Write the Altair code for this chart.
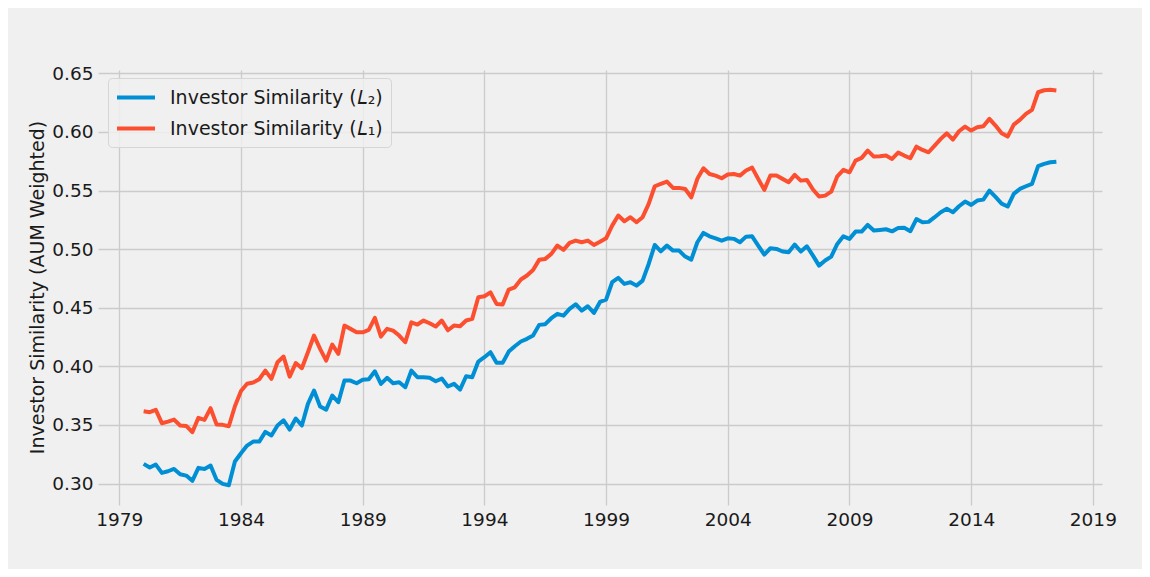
import altair as alt
import pandas as pd

# Quarterly observations, 1980Q1 .. 2017Q3 (decimal years)
quarter_years = [1980 + q * 0.25 for q in range(151)]

l2_values = [
    0.3168, 0.3137, 0.3162, 0.3091, 0.3105, 0.3125, 0.3080, 0.3068, 0.3023, 0.3134,
    0.3125, 0.3154, 0.3031, 0.2997, 0.2986, 0.3188, 0.3259, 0.3324, 0.3358, 0.3358,
    0.3441, 0.3410, 0.3495, 0.3540, 0.3461, 0.3555, 0.3495, 0.3680, 0.3794, 0.3657,
    0.3631, 0.3751, 0.3694, 0.3879, 0.3879, 0.3856, 0.3885, 0.3890, 0.3958, 0.3851,
    0.3902, 0.3856, 0.3864, 0.3822, 0.3964, 0.3907, 0.3907, 0.3902, 0.3873, 0.3896,
    0.3828, 0.3851, 0.3802, 0.3916, 0.3907, 0.4041, 0.4078, 0.4121, 0.4030, 0.4030,
    0.4126, 0.4172, 0.4212, 0.4235, 0.4263, 0.4354, 0.4360, 0.4411, 0.4448, 0.4433,
    0.4490, 0.4530, 0.4476, 0.4513, 0.4456, 0.4550, 0.4570, 0.4718, 0.4755, 0.4704,
    0.4718, 0.4689, 0.4732, 0.4874, 0.5036, 0.4982, 0.5031, 0.4988, 0.4988, 0.4937,
    0.4911, 0.5059, 0.5139, 0.5110, 0.5093, 0.5073, 0.5093, 0.5088, 0.5059, 0.5107,
    0.5110, 0.5031, 0.4954, 0.5008, 0.5002, 0.4980, 0.4974, 0.5039, 0.4980, 0.5025,
    0.4945, 0.4860, 0.4903, 0.4937, 0.5045, 0.5110, 0.5088, 0.5150, 0.5150, 0.5207,
    0.5159, 0.5164, 0.5170, 0.5152, 0.5180, 0.5182, 0.5153, 0.5257, 0.5230, 0.5233,
    0.5273, 0.5315, 0.5344, 0.5315, 0.5366, 0.5406, 0.5378, 0.5415, 0.5423, 0.5500,
    0.5446, 0.5389, 0.5364, 0.5472, 0.5514, 0.5537, 0.5557, 0.5708, 0.5728, 0.5742,
    0.5747,
]

l1_values = [
    0.3617, 0.3609, 0.3629, 0.3515, 0.3529, 0.3546, 0.3495, 0.3492, 0.3438, 0.3561,
    0.3543, 0.3643, 0.3503, 0.3501, 0.3489, 0.3660, 0.3790, 0.3851, 0.3862, 0.3890,
    0.3964, 0.3893, 0.4035, 0.4084, 0.3912, 0.4028, 0.3984, 0.4121, 0.4263, 0.4149,
    0.4049, 0.4186, 0.4107, 0.4348, 0.4320, 0.4291, 0.4291, 0.4311, 0.4414, 0.4254,
    0.4320, 0.4305, 0.4263, 0.4206, 0.4376, 0.4357, 0.4391, 0.4368, 0.4340, 0.4391,
    0.4308, 0.4348, 0.4342, 0.4391, 0.4405, 0.4590, 0.4598, 0.4632, 0.4533, 0.4527,
    0.4655, 0.4675, 0.4741, 0.4775, 0.4823, 0.4909, 0.4917, 0.4960, 0.5031, 0.4994,
    0.5054, 0.5073, 0.5059, 0.5073, 0.5036, 0.5063, 0.5093, 0.5201, 0.5287, 0.5238,
    0.5273, 0.5230, 0.5273, 0.5386, 0.5537, 0.5557, 0.5577, 0.5523, 0.5523, 0.5514,
    0.5443, 0.5600, 0.5690, 0.5642, 0.5628, 0.5605, 0.5637, 0.5642, 0.5628, 0.5671,
    0.5696, 0.5600, 0.5506, 0.5628, 0.5628, 0.5600, 0.5571, 0.5634, 0.5585, 0.5591,
    0.5509, 0.5449, 0.5457, 0.5491, 0.5622, 0.5677, 0.5656, 0.5756, 0.5779, 0.5841,
    0.5790, 0.5793, 0.5799, 0.5770, 0.5824, 0.5799, 0.5776, 0.5875, 0.5847, 0.5827,
    0.5884, 0.5941, 0.5989, 0.5935, 0.6006, 0.6046, 0.6012, 0.6040, 0.6049, 0.6112,
    0.6055, 0.5989, 0.5961, 0.6063, 0.6103, 0.6155, 0.6189, 0.6339, 0.6356, 0.6360,
    0.6355,
]

series_names = ["Investor Similarity (𝐿₂)", "Investor Similarity (𝐿₁)"]
series_colors = ["#008fd5", "#fc4f30"]
x_ticks = [1979, 1984, 1989, 1994, 1999, 2004, 2009, 2014, 2019]
y_ticks = [0.30, 0.35, 0.40, 0.45, 0.50, 0.55, 0.60, 0.65]
y_title = "Investor Similarity (AUM Weighted)"

df = pd.DataFrame({
    "year": quarter_years + quarter_years,
    "value": l2_values + l1_values,
    "series": [series_names[0]] * len(l2_values) + [series_names[1]] * len(l1_values),
})

FONT = "DejaVu Sans"
TEXT = "#1a1a1a"

chart = alt.Chart(df).mark_line(strokeWidth=4, strokeJoin="round").encode(
    x=alt.X(
        "year:Q",
        scale=alt.Scale(domain=[1978.125, 2019.375], nice=False, zero=False),
        axis=alt.Axis(values=x_ticks, format="d", title=None, labelPadding=5),
    ),
    y=alt.Y(
        "value:Q",
        scale=alt.Scale(domain=[0.2817, 0.6529], nice=False, zero=False),
        axis=alt.Axis(values=y_ticks, format=".2f", title=y_title, labelPadding=5,
                      titleX=-61, titleY=217, titleBaseline="middle",
                      titleFontSize=19, titleFontWeight="normal"),
    ),
    color=alt.Color(
        "series:N",
        scale=alt.Scale(domain=series_names, range=series_colors),
        sort=series_names,
        legend=alt.Legend(
            title=None, orient="none", legendX=10, legendY=8,
            padding=8, fillColor="rgba(240,240,240,0.85)", strokeColor="#d6d6d6",
            cornerRadius=4, symbolType="M-2,0H2", symbolStrokeWidth=4, symbolSize=361,
            symbolOffset=8.5,
            labelFontSize=19, labelFont=FONT, labelColor=TEXT, labelOffset=22.5,
            labelLimit=400, rowPadding=9,
        ),
    ),
).properties(
    width=1004,
    height=435,
    background="#f0f0f0",
    padding={"left": 90, "top": 62, "right": 40, "bottom": 64},
    autosize=alt.AutoSizeParams(type="none"),
).configure_view(
    strokeWidth=0,
).configure_axis(
    domain=False,
    ticks=False,
    grid=True,
    gridColor="#cbcbcb",
    gridWidth=1.3,
    labelFont=FONT,
    labelFontSize=18.5,
    labelColor=TEXT,
    titleFont=FONT,
    titleColor=TEXT,
)

chart.save("out.html", embed_options={"renderer": "svg", "actions": False})
